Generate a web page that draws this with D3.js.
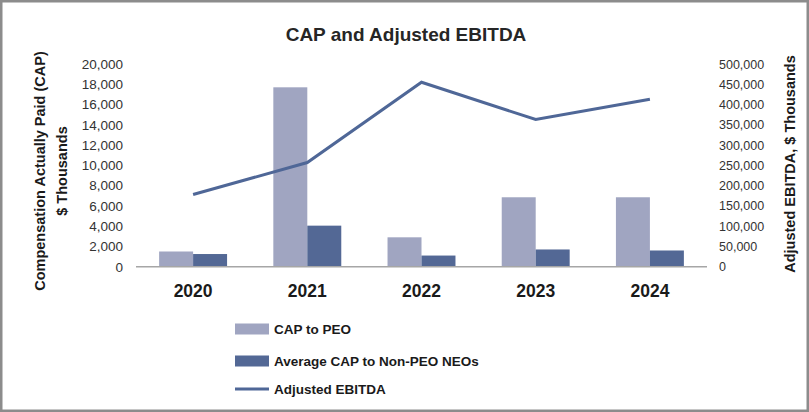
<!DOCTYPE html>
<html>
<head>
<meta charset="utf-8">
<script src="https://cdn.jsdelivr.net/npm/d3@7"></script>
<style>
  body { margin: 0; background: #fff; }
  svg { font-family: "Liberation Sans", Arial, sans-serif; }
</style>
</head>
<body>
<div id="chart"></div>
<script>
let years = ['2020', '2021', '2022', '2023', '2024'];
let capPEO = [1500, 17700, 2900, 6850, 6850];
let capNEO = [1250, 4050, 1100, 1700, 1600];
let ebitda = [178000, 257000, 455000, 363000, 413000];
let leftTicks = [0, 2000, 4000, 6000, 8000, 10000, 12000, 14000, 16000, 18000, 20000];
let rightTicks = [0, 50000, 100000, 150000, 200000, 250000, 300000, 350000, 400000, 450000, 500000];

function drawChart(id) {
  let width = 809, height = 412;
  let left = 136, right = 707, top = 64, bottom = 266.7;
  let peoColor = '#a0a5c1', neoColor = '#536895', lineColor = '#4f6797';

  let svg = d3.select(`#${id}`).append('svg').attr('width', width).attr('height', height);

  svg.append('rect')
    .attr('x', 1.25).attr('y', 1.25)
    .attr('width', width - 2.5).attr('height', height - 2.5)
    .attr('fill', '#fff').attr('stroke', '#8c8c8c').attr('stroke-width', 2.5);

  let x = d3.scaleBand().domain(years).range([left, right]).paddingInner(0.405).paddingOuter(0.2025);
  let sub = d3.scaleBand().domain(['peo', 'neo']).range([0, x.bandwidth()]);
  let y = d3.scaleLinear().domain([0, 20000]).range([bottom, top]);
  let y2 = d3.scaleLinear().domain([0, 500000]).range([bottom, top]);

  // title
  svg.append('text')
    .attr('x', 406).attr('y', 41)
    .attr('text-anchor', 'middle')
    .attr('font-size', 19).attr('font-weight', 'bold').attr('fill', '#262626')
    .text('CAP and Adjusted EBITDA');

  // axes
  let fmt = d3.format(',');
  let yAxis = svg.append('g')
    .attr('transform', `translate(${left},0)`)
    .call(d3.axisLeft(y).tickValues(leftTicks).tickFormat(fmt).tickSize(0).tickPadding(13));
  yAxis.select('.domain').remove();
  yAxis.selectAll('text').attr('font-size', 13.5).attr('fill', '#333').attr('font-family', null);

  let y2Axis = svg.append('g')
    .attr('transform', `translate(${right},0)`)
    .call(d3.axisRight(y2).tickValues(rightTicks).tickFormat(fmt).tickSize(0).tickPadding(12));
  y2Axis.select('.domain').remove();
  y2Axis.selectAll('text').attr('font-size', 12.5).attr('fill', '#333').attr('font-family', null);

  let xAxis = svg.append('g')
    .attr('transform', `translate(0,${bottom})`)
    .call(d3.axisBottom(x).tickSize(0).tickPadding(18));
  xAxis.select('.domain').remove();
  xAxis.selectAll('text')
    .attr('font-size', 17.5).attr('font-weight', 'bold').attr('fill', '#1a1a1a').attr('font-family', null);

  // axis titles
  svg.append('text')
    .attr('transform', 'translate(40,171) rotate(-90)')
    .attr('text-anchor', 'middle').attr('dominant-baseline', 'central')
    .attr('font-size', 14.5).attr('font-weight', 'bold').attr('fill', '#1a1a1a')
    .text('Compensation Actually Paid (CAP)');
  svg.append('text')
    .attr('transform', 'translate(62,171) rotate(-90)')
    .attr('text-anchor', 'middle').attr('dominant-baseline', 'central')
    .attr('font-size', 14.5).attr('font-weight', 'bold').attr('fill', '#1a1a1a')
    .text('$ Thousands');
  svg.append('text')
    .attr('transform', 'translate(790,164) rotate(-90)')
    .attr('text-anchor', 'middle').attr('dominant-baseline', 'central')
    .attr('font-size', 14.5).attr('font-weight', 'bold').attr('fill', '#1a1a1a')
    .text('Adjusted EBITDA, $ Thousands');

  // bars
  let groups = svg.selectAll('g.year')
    .data(years)
    .enter().append('g')
    .attr('class', 'year')
    .attr('transform', d => `translate(${x(d)},0)`);
  groups.append('rect')
    .attr('x', sub('peo')).attr('width', sub.bandwidth())
    .attr('y', (d, i) => y(capPEO[i])).attr('height', (d, i) => bottom - y(capPEO[i]))
    .attr('fill', peoColor);
  groups.append('rect')
    .attr('x', sub('neo')).attr('width', sub.bandwidth())
    .attr('y', (d, i) => y(capNEO[i])).attr('height', (d, i) => bottom - y(capNEO[i]))
    .attr('fill', neoColor);

  // baseline
  svg.append('line')
    .attr('x1', left).attr('x2', right).attr('y1', bottom).attr('y2', bottom)
    .attr('stroke', '#a6a6a6').attr('stroke-width', 1.5);

  // EBITDA line
  let line = d3.line()
    .x((d, i) => x(years[i]) + x.bandwidth() / 2)
    .y(d => y2(d));
  svg.append('path')
    .datum(ebitda)
    .attr('d', line)
    .attr('fill', 'none').attr('stroke', lineColor).attr('stroke-width', 3);

  // legend
  let legend = svg.append('g').attr('transform', 'translate(235,0)');
  let items = [
    {name: 'CAP to PEO', type: 'bar', color: peoColor, cy: 329},
    {name: 'Average CAP to Non-PEO NEOs', type: 'bar', color: neoColor, cy: 361},
    {name: 'Adjusted EBITDA', type: 'line', color: lineColor, cy: 389}
  ];
  items.forEach(it => {
    if (it.type === 'bar') {
      legend.append('rect')
        .attr('x', 0).attr('y', it.cy - 5.5).attr('width', 34).attr('height', 11)
        .attr('fill', it.color);
    } else {
      legend.append('line')
        .attr('x1', 0).attr('x2', 34).attr('y1', it.cy).attr('y2', it.cy)
        .attr('stroke', it.color).attr('stroke-width', 3);
    }
    legend.append('text')
      .attr('x', 39).attr('y', it.cy)
      .attr('dominant-baseline', 'central')
      .attr('font-size', 13.5).attr('font-weight', 'bold').attr('fill', '#1a1a1a')
      .text(it.name);
  });
}

drawChart('chart');
</script>
</body>
</html>
